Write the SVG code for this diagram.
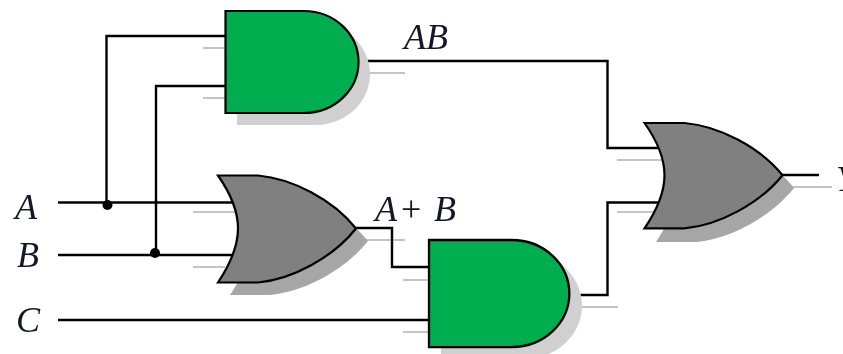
<svg xmlns="http://www.w3.org/2000/svg" width="843" height="354" viewBox="0 0 843 354">
<defs>
<filter id="soft" x="-2%" y="-2%" width="104%" height="104%"><feGaussianBlur stdDeviation="0.5"/></filter>
<path id="andShape" d="M0 0H78C110 0 133 24 133 51C133 78 110 102 78 102H0Z"/>
<path id="orShape" d="M0 0H40C74 3 115 24 138 53C115 82 74 104 40 107H0C14 86 20 70 20 53C20 36 14 20 0 0Z"/>
</defs>
<style>
.wire{fill:none;stroke:#000;stroke-width:2.400}
.ghost{fill:none;stroke:#c4c4c4;stroke-width:1.800}
.dot{fill:#000}
.and{fill:#00ae4f;stroke:#000;stroke-width:2.200}
.or{fill:#808080;stroke:#000;stroke-width:2.200}
.sa{fill:#d0d0d0}
.so{fill:#a6a6a6}
text{font-family:"Liberation Serif","Times New Roman",serif;font-style:italic;font-size:36px;fill:#14142a}
</style>
<rect width="843" height="354" fill="#fff"/>
<g filter="url(#soft)">
<g id="ghost-lines">
<path class="ghost" d="M203 48H225M203 98H225M358 73H405M193 212H235M193 267H225M358 240H405M403 280H429M403 332H429M569 307H618M617 160H662M617 212H658M785 187H832"/>
</g>
<g id="connectors">
<path class="wire" d="M225 36H106.500V205"/>
<path class="wire" d="M225 86H156V253"/>
<path class="wire" d="M58 202.500H235"/>
<path class="wire" d="M58 255H233"/>
<path class="wire" d="M58 320H429"/>
<path class="wire" d="M358 61H607.500V148H660"/>
<path class="wire" d="M569 295H607.500V202.500H658"/>
<path class="wire" d="M356 228H392V267H429"/>
<path class="wire" d="M782 175H819"/>
<circle class="dot" cx="107.500" cy="205" r="5"/>
<circle class="dot" cx="155" cy="253" r="5"/>
</g>
<g id="gate-and-top">
<use href="#andShape" class="sa" transform="translate(237 23)"/>
<use href="#andShape" class="and" transform="translate(225.500 11)"/>
</g>
<g id="gate-or-left">
<use href="#orShape" class="so" transform="translate(230 188)"/>
<use href="#orShape" class="or" transform="translate(218 175.500)"/>
</g>
<g id="gate-and-bottom">
<use href="#andShape" class="sa" transform="translate(441 252) scale(1.06 1.05)"/>
<use href="#andShape" class="and" transform="translate(429 240) scale(1.055 1.05)"/>
</g>
<g id="gate-or-right">
<use href="#orShape" class="so" transform="translate(656 135)"/>
<use href="#orShape" class="or" transform="translate(644.500 123) scale(1 0.985)"/>
</g>
<g id="labels">
<text x="15" y="219">A</text>
<text x="17" y="267">B</text>
<text x="16" y="332">C</text>
<text x="404" y="49">AB</text>
<text x="375" y="221">A</text>
<text x="401" y="221" style="font-style:normal">+</text>
<text x="434" y="221">B</text>
<text x="836" y="191">Y</text>
</g>
</g>
</svg>
